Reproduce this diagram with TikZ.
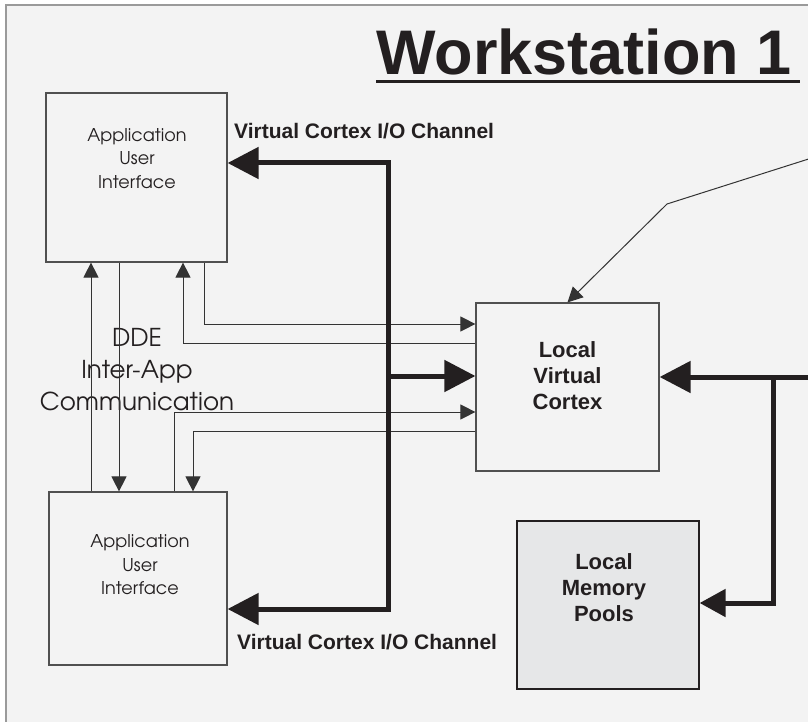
\documentclass[tikz,border=0pt]{standalone}
\usepackage{fontspec}
\setmainfont{Liberation Sans}
\newfontfamily\gothic{texgyreadventor-regular.otf}
\usetikzlibrary{arrows.meta}
\definecolor{ink}{HTML}{231F20}
\definecolor{paper}{HTML}{F3F3F3}
\definecolor{rim}{HTML}{9A9A9A}
\definecolor{wire}{HTML}{333333}
\definecolor{boxline}{HTML}{505050}
\definecolor{pool}{HTML}{E6E7E8}
\begin{document}
\begin{tikzpicture}[x=1pt,y=-1pt,
  box/.style={draw=boxline, line width=1.2pt, inner sep=0pt, minimum width=#1},
  apptext/.style={font=\gothic\fontsize{17.6}{23.5}\selectfont, text=ink, align=center, inner sep=0pt},
  boldtext/.style={font=\bfseries\fontsize{22}{26}\selectfont, text=ink, align=center, inner sep=0pt},
  chantext/.style={font=\bfseries\fontsize{21}{24}\selectfont, text=ink, inner sep=0pt, anchor=west},
  wirearrow/.style={draw=wire, line width=1pt, -{Triangle[length=15pt,width=15pt]}},
  busline/.style={draw=ink, line width=5pt, line join=miter},
  busarrow/.style={busline, -{Triangle[length=31pt,width=31pt]}},
  busarrowsmall/.style={busline, -{Triangle[length=26pt,width=27pt]}}]

% page and workstation frame
\useasboundingbox (0,0) rectangle (808,722);
\fill[white] (0,0) rectangle (808,722);
\draw[draw=rim, line width=1.5pt, fill=paper] (6,5) rectangle (840,760);

% title
\node[font=\bfseries\fontsize{63}{70}\selectfont, text=ink, inner sep=0pt, anchor=base west]
  (title) at (376,75) {Workstation 1};
\draw[ink, line width=3pt] ([yshift=-7pt]title.base west) -- ([yshift=-7pt,xshift=8pt]title.base east);

% boxes
\node[box=181pt, minimum height=169pt] (appA) at (136.5,177.5) {};
\node[box=178pt, minimum height=173pt] (appB) at (138,578.5) {};
\node[box=183pt, minimum height=168pt] (vc) at (567.5,387) {};
\node[box=182pt, minimum height=168pt, fill=pool, draw=ink] (mem) at (608,605) {};

% box texts
\node[apptext] (appAtext) at (137,158.5) {Application\\User\\Interface};
\node[apptext] (appBtext) at (140,565) {Application\\User\\Interface};
\node[boldtext] (vctext) at (567.5,376) {Local\\Virtual\\Cortex};
\node[boldtext] (memtext) at (604,588) {Local\\Memory\\Pools};

% DDE label
\node[font=\gothic\fontsize{24.6}{32}\selectfont, text=ink, align=center, inner sep=0pt]
  (dde) at (137,370) {DDE\\Inter-App\\Communication};

% channel labels
\node[chantext] (chanTop) at (234,131) {Virtual Cortex I/O Channel};
\node[chantext] (chanBot) at (237,642) {Virtual Cortex I/O Channel};

% lanes of the thin connectors
\coordinate (l1) at (91,0);
\coordinate (l2) at (119,0);
\coordinate (r3) at (183,343);
\coordinate (r4) at (204,324);
\coordinate (r5) at (174,412);
\coordinate (r6) at (193,431);

% application to application
\draw[wirearrow] (l1 |- appB.north) -- (l1 |- appA.south);
\draw[wirearrow] (l2 |- appA.south) -- (l2 |- appB.north);
% applications and the local cortex
\draw[wirearrow] (vc.west |- r3) -- (r3) -- (r3 |- appA.south);
\draw[wirearrow] (r4 |- appA.south) -- (r4) -- (vc.west |- r4);
\draw[wirearrow] (r5 |- appB.north) -- (r5) -- (vc.west |- r5);
\draw[wirearrow] (vc.west |- r6) -- (r6) -- (r6 |- appB.north);

% incoming link from the right
\coordinate (farIn) at (840,149);
\coordinate (bend) at (667,204);
\draw[wirearrow] (farIn) -- (bend) -- (vc.north);

% I/O channel bus
\coordinate (busTop) at (388,163);
\coordinate (busBot) at (388,609);
\coordinate (busMid) at (388,376);
\draw[busarrow] (busBot) -- (busTop) -- (appA.east |- busTop);
\draw[busarrow] (busTop) -- (busBot) -- (appB.east |- busBot);
\draw[busarrow] (busMid) -- (vc.west |- busMid);

% link from the right into the cortex and memory pools
\coordinate (rightIn) at (830,377);
\coordinate (tap) at (773,377);
\coordinate (tapLow) at (773,603);
\draw[busarrow] (rightIn) -- (vc.east |- rightIn);
\draw[busarrowsmall] (tap) -- (tapLow) -- (mem.east |- tapLow);
\end{tikzpicture}
\end{document}
